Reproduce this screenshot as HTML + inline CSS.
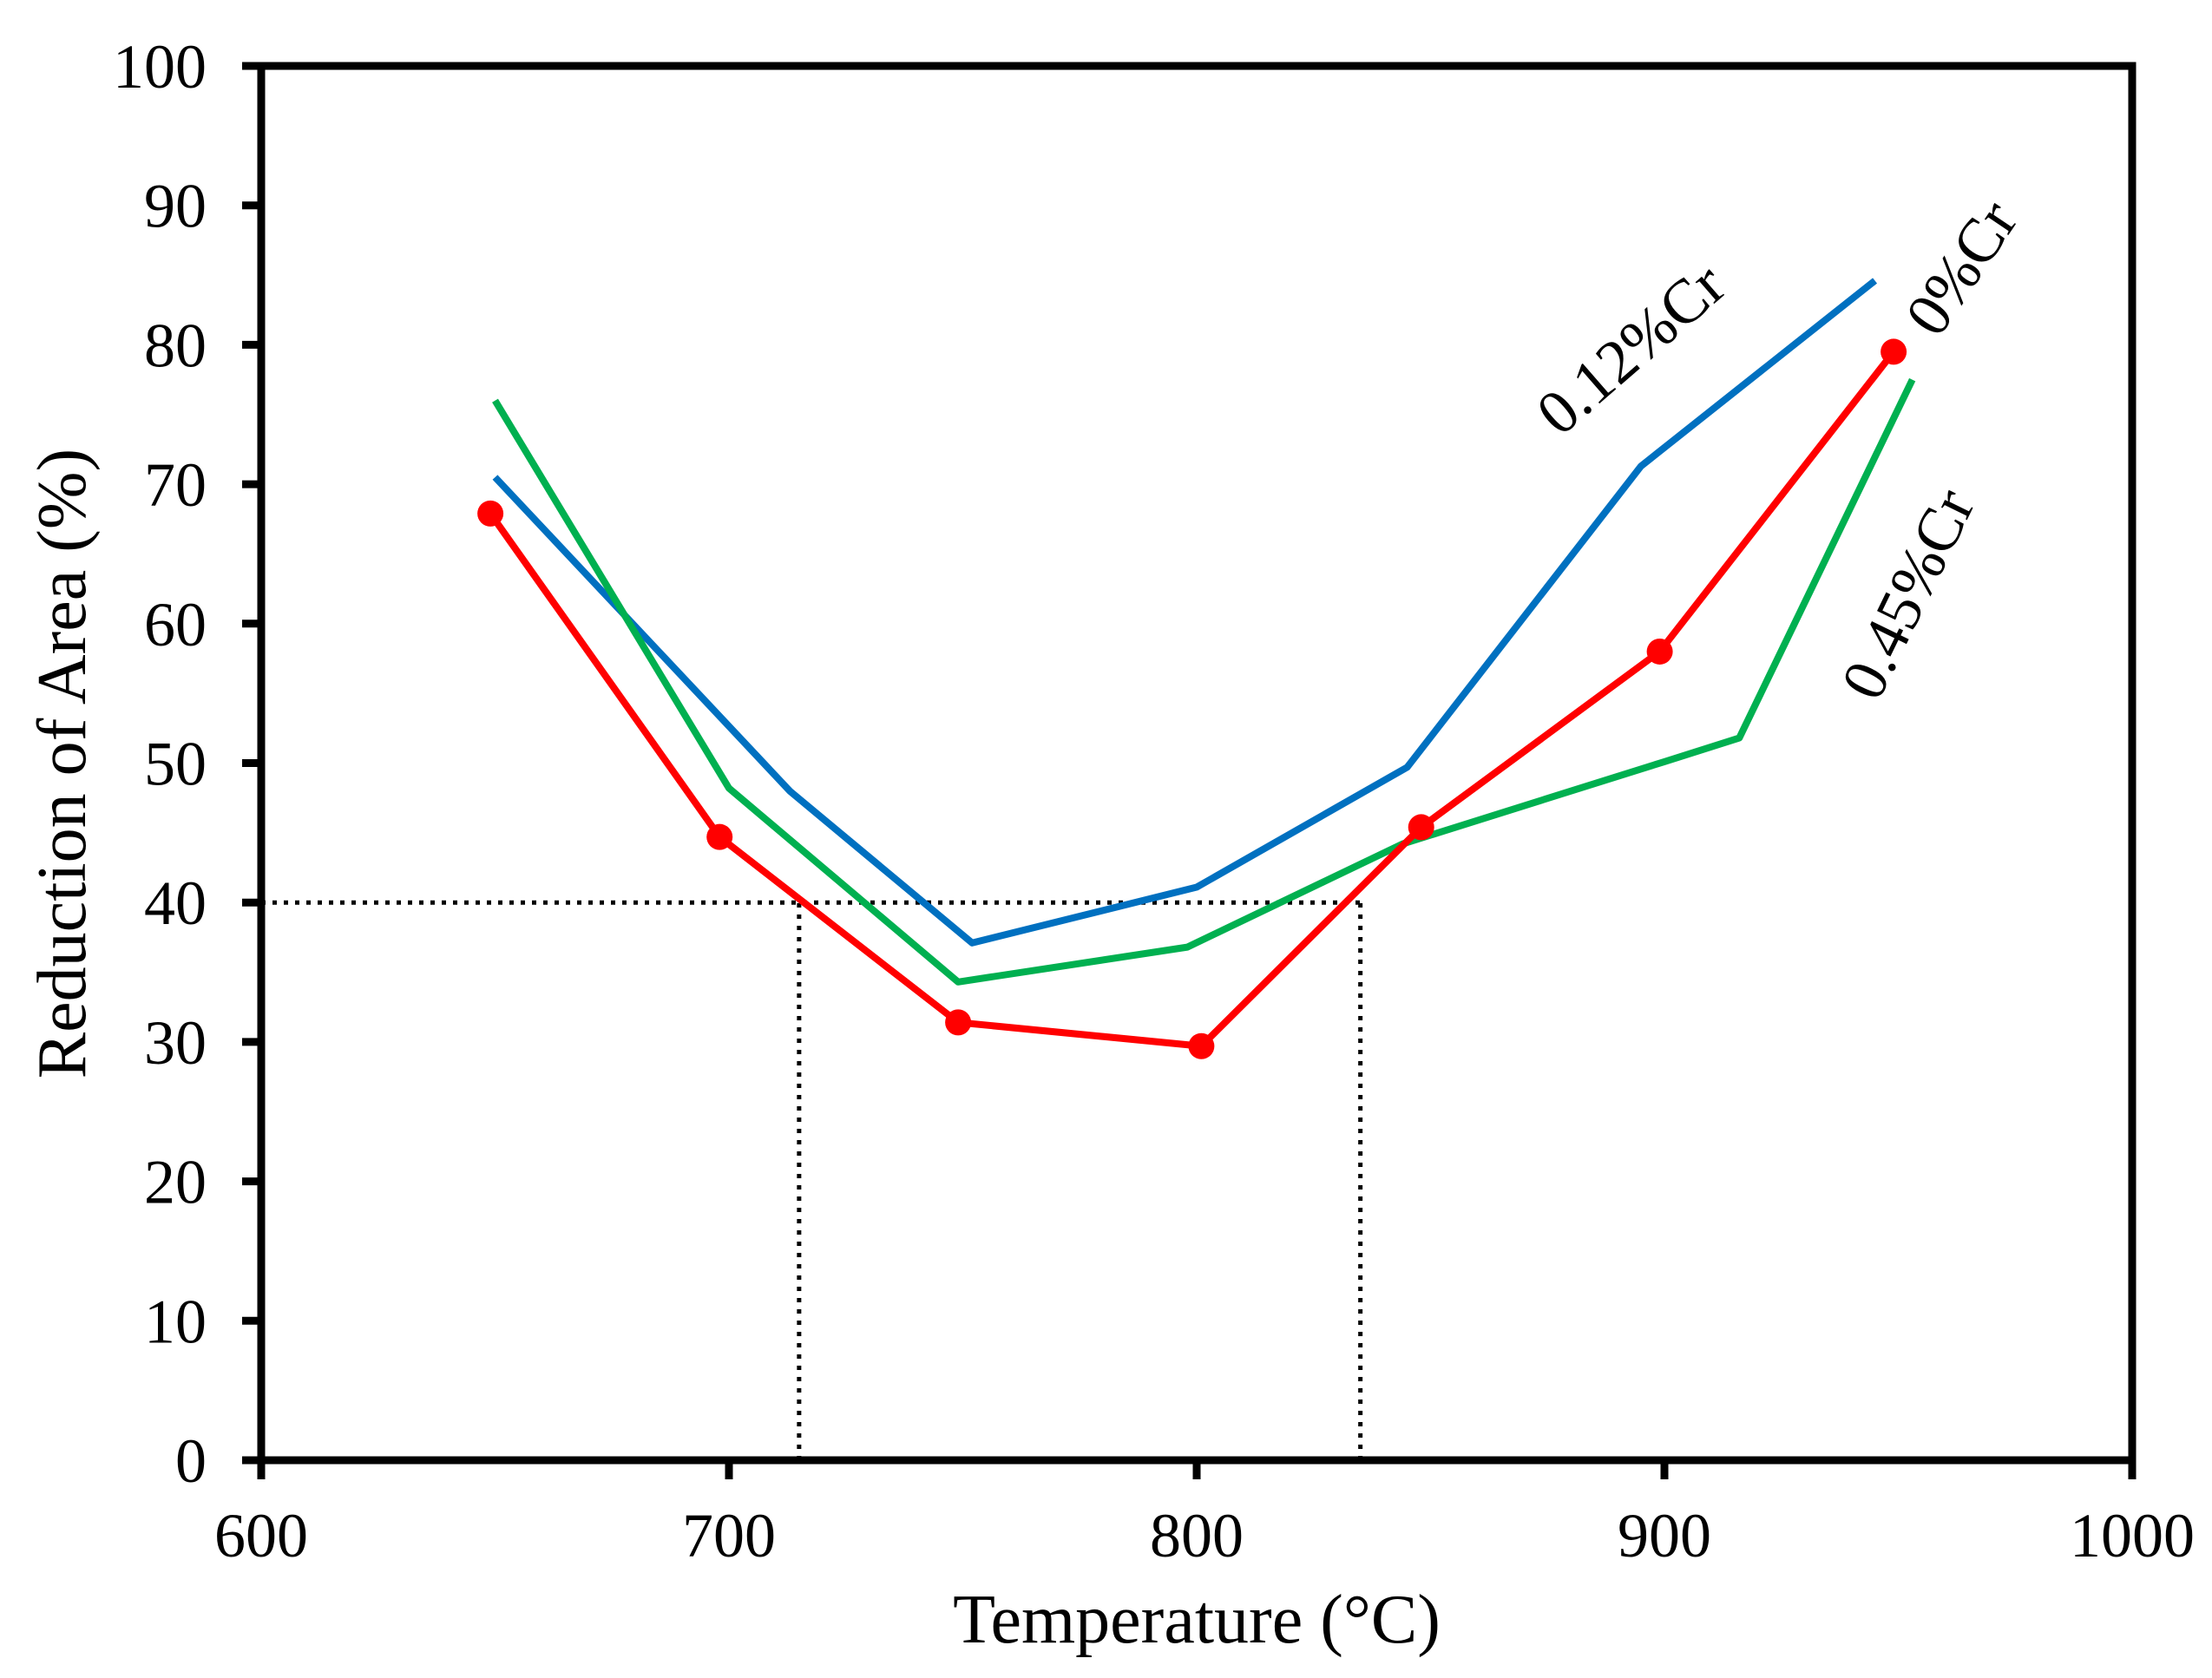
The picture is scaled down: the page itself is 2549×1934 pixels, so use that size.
<!DOCTYPE html>
<html><head><meta charset="utf-8"><style>
html,body{margin:0;padding:0;background:#fff;}
svg{display:block;font-family:"Liberation Serif",serif;}
</style></head><body>
<svg id="chart" width="2549" height="1934" viewBox="0 0 2549 1934" xmlns="http://www.w3.org/2000/svg">
<rect width="2549" height="1934" fill="#fff"/>
<g id="plot"></g>
</svg>
<script>
const xTicks=[600,700,800,900,1000];
const yTicks=[0,10,20,30,40,50,60,70,80,90,100];
const blueX=[650,713,752,800,845,895,945];
const blueY=[70.5,48,37.1,41.1,49.7,71.3,84.6];
const redX=[649,698,749,801,848,899,949];
const redY=[67.9,44.7,31.4,29.7,45.4,58,79.5];
const greenX=[650,700,749,798,844,900,916,953];
const greenY=[76,48.2,34.3,36.8,44.2,50.1,51.8,77.5];
const threshold=40;
const thresholdT=[715,835];

const X0=301,X1=2457,Y0=1683,Y1=76;
function sx(v){return X0+(v-600)/400*(X1-X0);}
function sy(v){return Y0-(v/100)*(Y0-Y1);}
const NS='http://www.w3.org/2000/svg';
const g=document.getElementById('plot');
function mk(t,a,txt){const e=document.createElementNS(NS,t);for(const k in a)e.setAttribute(k,a[k]);if(txt!==undefined)e.textContent=txt;g.appendChild(e);return e;}

let e=mk('line',{x1:sx(600),y1:sy(threshold),x2:sx(thresholdT[1]),y2:sy(threshold),stroke:'#000','stroke-width':5,'stroke-dasharray':'5 8'});


thresholdT.forEach((t,i)=>{
  const l=mk('line',{x1:sx(t),y1:sy(0),x2:sx(t),y2:sy(threshold),stroke:'#000','stroke-width':5,'stroke-dasharray':'5 8'});
  
  
});

function series(xs,ys,col,name){
  const p=mk('polyline',{points:xs.map((x,i)=>sx(x)+','+sy(ys[i])).join(' '),fill:'none',stroke:col,'stroke-width':8,'stroke-linejoin':'round'});
  
  
}
series(blueX,blueY,'#0070C0','series-0.12-cr');
series(greenX,greenY,'#00B050','series-0.45-cr');
series(redX,redY,'#FF0000','series-0-cr');
redX.forEach((x,i)=>{
  const c=mk('circle',{cx:sx(x),cy:sy(redY[i]),r:15,fill:'#FF0000'});
  
  
});

e=mk('rect',{x:X0,y:Y1,width:X1-X0,height:Y0-Y1,fill:'none',stroke:'#000','stroke-width':9});



yTicks.forEach(v=>{
  const t=mk('line',{x1:X0-22,y1:sy(v),x2:X0,y2:sy(v),stroke:'#000','stroke-width':9});
  
  
  const l=mk('text',{x:238,y:sy(v)+25,'text-anchor':'end','font-size':72},String(v));
  
  
});
xTicks.forEach(v=>{
  const t=mk('line',{x1:sx(v),y1:Y0,x2:sx(v),y2:Y0+22,stroke:'#000','stroke-width':9});
  
  
  const l=mk('text',{x:sx(v),y:1794,'text-anchor':'middle','font-size':72},String(v));
  
  
});

e=mk('text',{x:1379,y:1893,'text-anchor':'middle','font-size':80},'Temperature (°C)');


e=mk('text',{x:0,y:0,'text-anchor':'middle','font-size':80,transform:'translate(98,880) rotate(-90)'},'Reduction of Area (%)');



e=mk('text',{x:0,y:0,'text-anchor':'middle','font-size':72,transform:'translate(1895,420) rotate(-41)'},'0.12%Cr');


e=mk('text',{x:0,y:0,'text-anchor':'middle','font-size':72,transform:'translate(2280,322) rotate(-56)'},'0%Cr');


e=mk('text',{x:0,y:0,'text-anchor':'middle','font-size':72,transform:'translate(2220,695) rotate(-64)'},'0.45%Cr');


</script>
</body></html>
